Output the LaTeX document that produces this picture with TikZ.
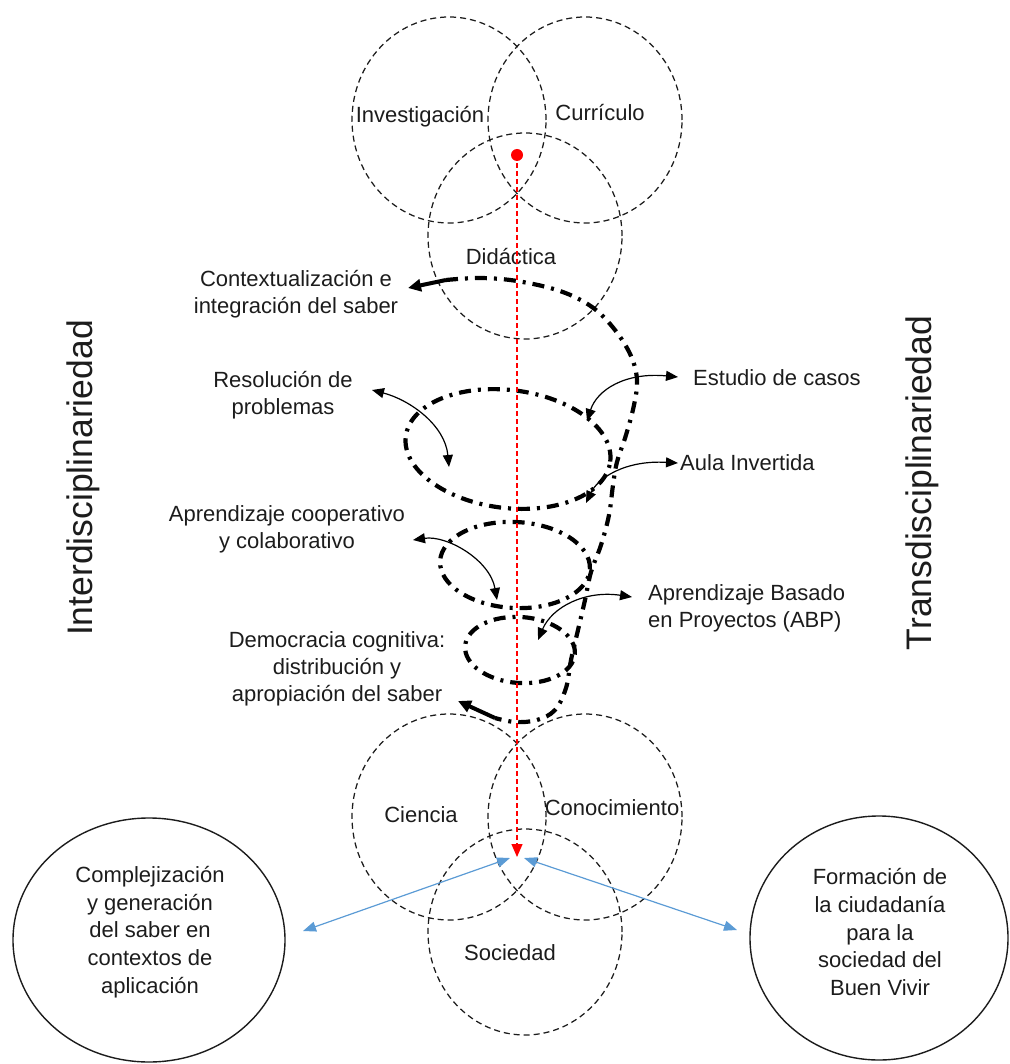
\documentclass[tikz,border=0pt]{standalone}
\usepackage{fontspec}
\setmainfont{Liberation Sans}
\usetikzlibrary{shapes.geometric,arrows.meta}
\definecolor{ink}{RGB}{28,28,28}
\definecolor{linkblue}{RGB}{91,155,213}
\begin{document}
\begin{tikzpicture}[x=1pt,y=-1pt,
  dcirc/.style={ellipse, draw=ink, line width=1.25pt, dash pattern=on 6pt off 4pt,
                minimum width=194pt, minimum height=206pt, inner sep=0pt},
  bigc/.style={ellipse, draw=ink, line width=1.4pt, inner sep=0pt},
  txt/.style={font=\fontsize{22}{27}\selectfont, text=ink, align=center, inner sep=0pt},
  ctxt/.style={font=\fontsize{22}{27.6}\selectfont, text=ink, align=center, inner sep=0pt},
  sidetxt/.style={font=\fontsize{35.5}{40}\selectfont, text=ink, rotate=90, anchor=base, inner sep=0pt},
  spir/.style={line width=4.2pt, dash pattern=on 12pt off 7pt on 3pt off 7pt},
  spirhead/.style={line width=4pt, -{Triangle[length=13pt,width=12pt]}},
  bend2/.style={line width=1.2pt, {Triangle[length=12pt,width=10pt]}-{Triangle[length=12pt,width=10pt]}},
  blueway/.style={draw=linkblue, color=linkblue, line width=1.2pt,
                  {Triangle[length=13pt,width=10pt]}-{Triangle[length=13pt,width=10pt]}},
  redaxis/.style={draw=red, color=red, line width=1.3pt, dash pattern=on 5pt off 3pt,
                  -{Triangle[length=13pt,width=11pt]}},
  reddot/.style={circle, fill=red, minimum size=12pt, inner sep=0pt},
]
\useasboundingbox (0,0) rectangle (1009,1064);

% upper triad
\node[dcirc] (inv) at (449,120) {};
\node[dcirc] (cur) at (585,120) {};
\node[dcirc] (did) at (525,236) {};
\node[txt] (invt) at (420,117) {Investigación};
\node[txt] (curt) at (600,113) {Currículo};
\node[txt] (didt) at (511,257) {Didáctica};

% lower triad
\node[dcirc] (cie) at (449,817) {};
\node[dcirc] (con) at (585,817) {};
\node[dcirc] (soc) at (525,932) {};
\node[txt] (ciet) at (421,815) {Ciencia};
\node[txt] (cont) at (612,808) {Conocimiento};
\node[txt] (soct) at (510,953) {Sociedad};

% outcome circles
\node[bigc, minimum width=272pt, minimum height=244pt] (cplx) at (149,940) {};
\node[bigc, minimum width=258pt, minimum height=244pt] (ciud) at (879,938) {};
\node[ctxt] (cplxt) at (150,932) {Complejización\\y generación\\del saber en\\contextos de\\aplicación};
\node[ctxt] (ciudt) at (880,932) {Formación de\\la ciudadanía\\para la\\sociedad del\\Buen Vivir};

% side captions
\node[sidetxt] (inter) at (92,478) {Interdisciplinariedad};
\node[sidetxt] (trans) at (931,483) {Transdisciplinariedad};

% method labels
\node[txt] (ctx) at (296,294) {Contextualización e\\integración del saber};
\node[txt] (res) at (283,395) {Resolución de\\problemas};
\node[txt] (coop) at (287,529) {Aprendizaje cooperativo\\y colaborativo};
\node[txt] (demo) at (337,669) {Democracia cognitiva:\\distribución y\\apropiación del saber};
\node[txt, anchor=west] (est) at (693,378) {Estudio de casos};
\node[txt, anchor=west] (aula) at (680,463) {Aula Invertida};
\node[txt, anchor=west, align=left] (abp) at (648,608) {Aprendizaje Basado\\en Proyectos (ABP)};

% spiral: outer sweep
\coordinate (sp0) at (446,280);
\coordinate (sptip) at (408,288);
\coordinate (spE) at (495,718);
\coordinate (spEtip) at (458,701);
\draw[spir] plot[smooth, tension=0.6] coordinates {
  (446,280) (480,278) (517,281) (560,291) (592,307) (615,330) (631,356)
  (637,380) (634,405) (626,435) (617,462) (613,485) (609,515) (601,545)
  (591,572) (585,600) (578,630) (571,660) (566,688) (555,710) (537,720)
  (515,722) (495,718)};
\draw[spirhead] (sp0) -- (sptip);
\draw[spirhead] (spE) -- (spEtip);

% spiral: inner loops
\draw[spir, rotate around={-7:(508,449)}] (508,449) ellipse [x radius=103pt, y radius=59pt];
\draw[spir, rotate around={-3:(515,565)}] (515,565) ellipse [x radius=75pt, y radius=43pt];
\draw[spir, rotate around={-4:(520,650)}] (520,650) ellipse [x radius=55pt, y radius=33pt];

% pointers from labels into the spiral
\coordinate (resA) at (372,390);  \coordinate (resB) at (449,467);
\coordinate (estA) at (587,421);  \coordinate (estB) at (678,377);
\coordinate (aulaA) at (586,503); \coordinate (aulaB) at (678,463);
\coordinate (coopA) at (413,540); \coordinate (coopB) at (497,600);
\coordinate (abpA) at (538,640);  \coordinate (abpB) at (632,597);
\draw[bend2] (resA) .. controls (410,400) and (445,425) .. (resB);
\draw[bend2] (estA) .. controls (597,390) and (625,372) .. (estB);
\draw[bend2] (aulaA) .. controls (598,478) and (625,460) .. (aulaB);
\draw[bend2] (coopA) .. controls (447,535) and (490,560) .. (coopB);
\draw[bend2] (abpA) .. controls (552,607) and (585,590) .. (abpB);

% central axis
\node[reddot] (dot) at (517,155) {};
\coordinate (axisend) at (517,857);
\draw[redaxis] (dot.center) -- (axisend);

% links to outcomes
\coordinate (hubL) at (510,858);
\coordinate (hubR) at (524,858);
\coordinate (endL) at (303,931);
\coordinate (endR) at (737,930);
\draw[blueway] (hubL) -- (endL);
\draw[blueway] (hubR) -- (endR);
\end{tikzpicture}
\end{document}
